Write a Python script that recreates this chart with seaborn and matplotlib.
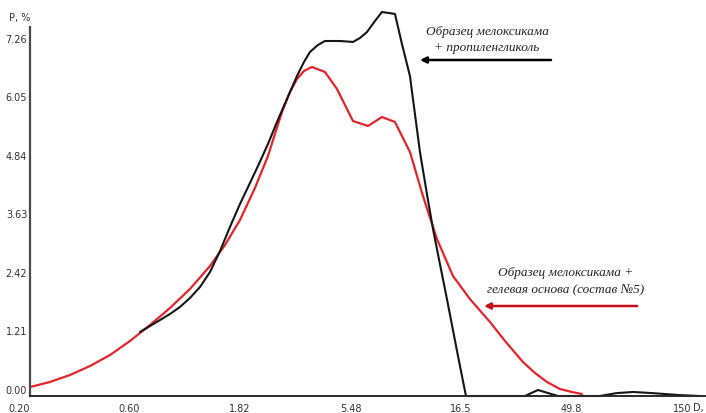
import numpy as np
import pandas as pd
import matplotlib
matplotlib.use("Agg")
import matplotlib.pyplot as plt
import matplotlib.transforms as mtransforms
import seaborn as sns

# Particle size distribution, D (um) vs P (%)
d_black = [0.600, 0.663, 0.733, 0.809, 0.894, 0.988, 1.092, 1.207, 1.334, 1.473,
           1.628, 1.799, 1.949, 2.153, 2.356, 2.603, 2.877, 3.085, 3.275, 3.548,
           3.804, 4.419, 5.032, 5.396, 5.787, 6.267, 6.721, 7.652, 8.206, 8.888,
           9.822, 10.53, 11.19, 11.99, 12.86, 14.36, 15.55,
           28.02, 31.9, 38.96, 59.2, 70.0, 82.4, 100.0, 130.0, 160.8]
p_black = [1.324, 1.448, 1.572, 1.696, 1.841, 2.027, 2.254, 2.565, 2.999, 3.495,
           3.971, 4.405, 4.757, 5.212, 5.667, 6.143, 6.618, 6.908, 7.115, 7.260,
           7.342, 7.342, 7.322, 7.404, 7.528, 7.756, 7.942, 7.901, 7.280, 6.618,
           5.047, 4.178, 3.454, 2.730, 2.006, 0.827, 0.0,
           0.0, 0.124, 0.0, 0.0, 0.06, 0.083, 0.06, 0.02, 0.0]

d_red = [0.200, 0.244, 0.298, 0.364, 0.445, 0.543, 0.663, 0.809, 0.988, 1.207,
         1.402, 1.628, 1.891, 2.153, 2.476, 2.682, 2.877, 3.085, 3.341, 3.804,
         4.289, 5.032, 5.845, 6.721, 7.652, 8.888, 10.12, 11.64, 13.66, 16.18,
         19.76, 22.96, 27.48, 30.98, 34.92, 39.75, 44.81, 49.52]
p_red = [0.186, 0.290, 0.434, 0.620, 0.848, 1.138, 1.468, 1.820, 2.213, 2.689,
         3.123, 3.640, 4.302, 4.964, 5.874, 6.287, 6.556, 6.722, 6.805, 6.701,
         6.350, 5.688, 5.584, 5.770, 5.667, 5.047, 4.137, 3.247, 2.482, 2.006,
         1.531, 1.138, 0.703, 0.476, 0.290, 0.145, 0.083, 0.041]

x_ticks = [0.20, 0.602, 1.82, 5.48, 16.5, 49.8, 150.0]
x_labels = ["0.20", "0.60", "1.82", "5.48", "16.5", "49.8", "150"]
y_ticks = [0.00, 1.21, 2.42, 3.63, 4.84, 6.05, 7.26]
y_labels = ["0.00", "1.21", "2.42", "3.63", "4.84", "6.05", "7.26"]

label_black = "Образец мелоксикама\n+ пропиленгликоль"
label_red = "Образец мелоксикама +\nгелевая основа (состав №5)"

sns.set_style("white")
W, H = 706, 414
fig = plt.figure(figsize=(W / 100, H / 100), dpi=100)
ax = fig.add_axes([30 / W, 17 / H, 676 / W, 392 / H])

df_black = pd.DataFrame({"D": d_black, "P": p_black})
df_red = pd.DataFrame({"D": d_red, "P": p_red})
sns.lineplot(data=df_red, x="D", y="P", sort=False, estimator=None,
             color="#e3242b", lw=1.6, ax=ax, clip_on=False)
sns.lineplot(data=df_black, x="D", y="P", sort=False, estimator=None,
             color="#151515", lw=1.5, ax=ax, clip_on=False)

ax.set_xscale("log")
ax.set_xlim(0.2, 170.9)
ax.set_ylim(0, 8.107)
ax.set_xlabel("")
ax.set_ylabel("")
ax.minorticks_off()
ax.set_xticks(x_ticks)
ax.set_xticklabels(x_labels)
ax.set_yticks(y_ticks)
ax.set_yticklabels(y_labels)
ax.tick_params(axis="both", length=0, labelsize=7, colors="#333333")
ax.tick_params(axis="x", pad=5)
ax.tick_params(axis="y", pad=2)

dx = mtransforms.ScaledTranslation(-11 / 100, 0, fig.dpi_scale_trans)
for lab in ax.get_xticklabels():
    lab.set_transform(lab.get_transform() + dx)
dy = mtransforms.ScaledTranslation(0, 7 / 100, fig.dpi_scale_trans)
for lab in ax.get_yticklabels():
    lab.set_transform(lab.get_transform() + dy)

for side in ("top", "right"):
    ax.spines[side].set_visible(False)
ax.spines["left"].set_color("#4a4a4a")
ax.spines["left"].set_linewidth(1.6)
ax.spines["left"].set_bounds(0, 7.63)
ax.spines["bottom"].set_color("#2a2a2a")
ax.spines["bottom"].set_linewidth(1.4)

def px(x, y):
    return (x / W, 1 - y / H)

fig.text(*px(20, 18), "P, %", fontsize=7, color="#333333", ha="center", va="center")
fig.text(*px(693, 408), "D, мкм", fontsize=7, color="#333333", ha="left", va="center")

serif = dict(family="Liberation Serif", style="italic", fontsize=9.5,
             color="#222222", ha="center", va="center")
fig.text(*px(487, 40), label_black, linespacing=1.35, **serif)
fig.text(*px(566, 282), label_red, linespacing=1.6, **serif)

ax.annotate("", xy=px(420, 61), xytext=px(551, 61), xycoords="figure fraction",
            textcoords="figure fraction",
            arrowprops=dict(arrowstyle="-|>", color="black", lw=1.8,
                            mutation_scale=9, shrinkA=0, shrinkB=0))
ax.annotate("", xy=px(484, 307), xytext=px(637, 307), xycoords="figure fraction",
            textcoords="figure fraction",
            arrowprops=dict(arrowstyle="-|>", color="#c8101a", lw=1.8,
                            mutation_scale=9, shrinkA=0, shrinkB=0))

fig.savefig("out.png", dpi=100)
